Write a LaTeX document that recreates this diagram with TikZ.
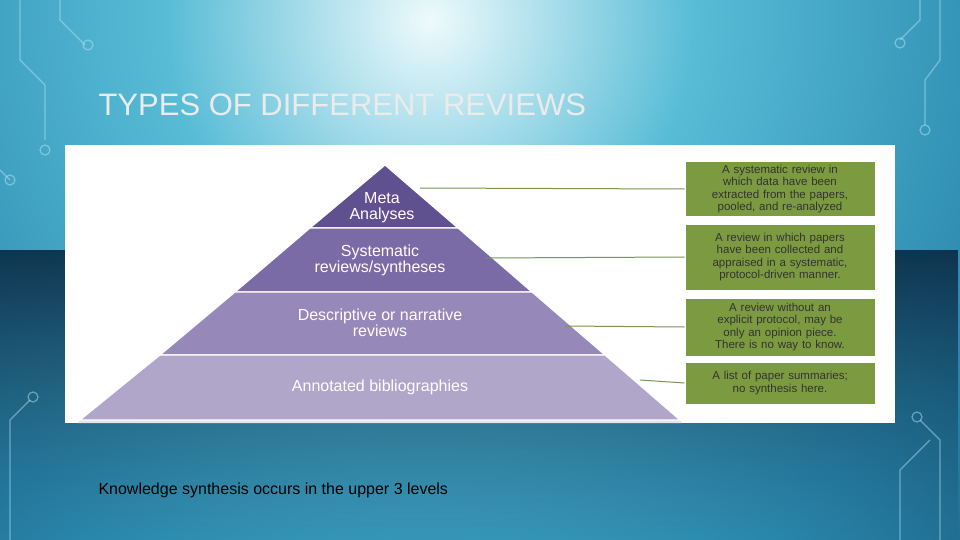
\documentclass[tikz,border=0pt]{standalone}
\usepackage{fontspec}
\setmainfont{Liberation Sans}
\usetikzlibrary{fadings}
\definecolor{bgdark}{HTML}{0A2A44}
\definecolor{bgmid}{HTML}{2A88AE}
\definecolor{bgcy}{HTML}{58BCD6}
\definecolor{bglight}{HTML}{EEFAFC}
\definecolor{pA}{HTML}{5F5090}
\definecolor{pB}{HTML}{7A6BA6}
\definecolor{pC}{HTML}{9689B9}
\definecolor{pD}{HTML}{B0A6CA}
\definecolor{gbx}{HTML}{7C9A40}
\pgfdeclareradialshading{bgsh}{\pgfpoint{0bp}{0bp}}{color(0bp)=(bglight); color(6bp)=(bgcy); color(14bp)=(bgmid); color(25bp)=(bgdark); color(50bp)=(bgdark)}
\begin{document}
\begin{tikzpicture}[x=1pt,y=-1pt,
 tier/.style={draw=white,line width=1.2pt},
 tiertext/.style={text=white,font=\fontsize{16}{16}\selectfont,align=center},
 gbox/.style={draw=white,line width=1pt,fill=gbx,text=black!80,font=\fontsize{11.5}{12.5}\selectfont,align=center,inner sep=1pt,minimum width=190pt,text width=186pt},
 conn/.style={draw=gbx!70!gray,line width=1pt},
 circ/.style={draw=cyan!30!white,line width=1.2pt,opacity=0.5}]
\useasboundingbox (0,0) rectangle (960,540);
\begin{scope}
\clip (0,0) rectangle (960,540);
\fill[bgdark] (0,0) rectangle (960,540);
\shade[shading=bgsh] (430,20) circle (1100);
\fill[bgdark,path fading=south,opacity=0.9] (0,250) rectangle (960,540);
\end{scope}
% circuit lines
\draw[circ] (20,0)--(20,60)--(45,85)--(45,140); \draw[circ] (45,150) circle (5);
\draw[circ] (60,0)--(60,20)--(85,45); \draw[circ] (88,45) circle (5);
\draw[circ] (0,170)--(10,180); \draw[circ] (10,180) circle (5);
\draw[circ] (940,0)--(940,60)--(925,80)--(925,125); \draw[circ] (925,130) circle (5);
\draw[circ] (920,0)--(920,20)--(900,40); \draw[circ] (900,43) circle (5);
\draw[circ] (10,540)--(10,420)--(30,400); \draw[circ] (33,397) circle (5);
\draw[circ] (940,540)--(940,440)--(920,420); \draw[circ] (917,417) circle (5);
\draw[circ] (900,540)--(900,470)--(930,440);
\node[anchor=west,text=white!92!black,font=\fontsize{31}{32}\selectfont] (title) at (95,105) {TYPES OF DIFFERENT REVIEWS};
\fill[white] (65,145) rectangle (895,423);
% pyramid
\fill[black!10] (78,423) -- (682,423) -- (680,420) -- (80,420) -- cycle;
\draw[tier,fill=pA] (385,165) -- (458,228) -- (310,228) -- cycle;
\draw[tier,fill=pB] (310,228) -- (458,228) -- (532,292) -- (235,292) -- cycle;
\draw[tier,fill=pC] (235,292) -- (532,292) -- (605,355) -- (160,355) -- cycle;
\draw[tier,fill=pD] (160,355) -- (605,355) -- (680,420) -- (80,420) -- cycle;
\node[tiertext] (t1) at (382,208) {Meta\\Analyses};
\node[tiertext] (t2) at (380,260) {Systematic\\reviews/syntheses};
\node[tiertext] (t3) at (380,323) {Descriptive or narrative\\reviews};
\node[tiertext] (t4) at (380,387) {Annotated bibliographies};
% boxes
\node[gbox,minimum height=54pt] (b1) at (780,189) {A systematic review in\\which data have been\\extracted from the papers,\\pooled, and re-analyzed};
\node[gbox,minimum height=66pt] (b2) at (780,257) {A review in which papers\\have been collected and\\appraised in a systematic,\\protocol-driven manner.};
\node[gbox,minimum height=58pt] (b3) at (780,327) {A review without an\\explicit protocol, may be\\only an opinion piece.\\There is no way to know.};
\node[gbox,minimum height=42pt] (b4) at (780,383) {A list of paper summaries;\\no synthesis here.};
\coordinate (c1) at (420,188); \coordinate (c2) at (485,258);
\coordinate (c3) at (565,326); \coordinate (c4) at (640,380);
\draw[conn] (c1)--(b1.west); \draw[conn] (c2)--(b2.west);
\draw[conn] (c3)--(b3.west); \draw[conn] (c4)--(b4.west);
\node[anchor=west,font=\fontsize{16}{18}\selectfont] (cap) at (95,490) {Knowledge synthesis occurs in the upper 3 levels};
\end{tikzpicture}
\end{document}
